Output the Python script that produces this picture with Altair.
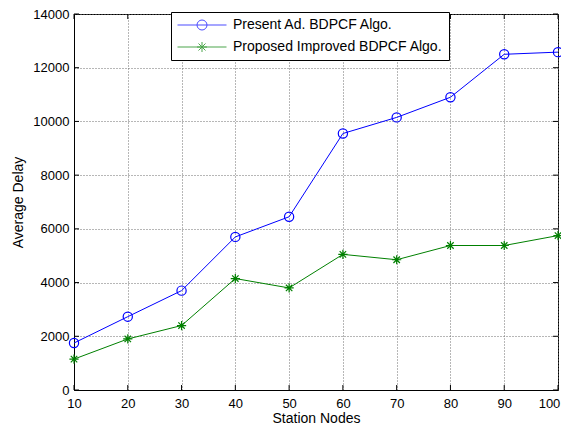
import altair as alt
import pandas as pd

nodes = [10, 20, 30, 40, 50, 60, 70, 80, 90, 100]
present = [1750, 2730, 3700, 5700, 6450, 9550, 10150, 10900, 12500, 12580]
proposed = [1150, 1900, 2400, 4150, 3800, 5050, 4850, 5380, 5380, 5750]
series_names = ["Present Ad. BDPCF Algo.", "Proposed Improved BDPCF Algo."]
colors = ["#0000FF", "#008000"]
x_ticks = [10, 20, 30, 40, 50, 60, 70, 80, 90, 100]
y_ticks = [0, 2000, 4000, 6000, 8000, 10000, 12000, 14000]

W, H = 484, 376
FONT = "Liberation Sans"

df = pd.DataFrame({
    "nodes": nodes * 2,
    "delay": present + proposed,
    "series": [series_names[0]] * len(nodes) + [series_names[1]] * len(nodes),
})

xs = alt.Scale(domain=[10, 100], nice=False, zero=False)
ys = alt.Scale(domain=[0, 14000], nice=False)

x_enc = alt.X("nodes:Q", scale=xs,
              axis=alt.Axis(values=x_ticks, title="Station Nodes", format="d",
                            labelOffset={"condition": {"test": "datum.value == 100", "value": -9},
                                         "value": 0},
                            titleBaseline="alphabetic", titleY=32))
y_enc = alt.Y("delay:Q", scale=ys,
              axis=alt.Axis(values=y_ticks, title="Average Delay", format="d"))

star_path = "M-1,0L1,0M0,-1L0,1M-0.7,-0.7L0.7,0.7M-0.7,0.7L0.7,-0.7"
L = 4.9
leg_circle = f"M-{L},0L{L},0M1,0A1,1 0 1,1 -1,0A1,1 0 1,1 1,0"
leg_star = f"M-{L},0L{L},0" + star_path

base = alt.Chart(df)

layers = []
for name, col, shp in zip(series_names, colors, ["circle", star_path]):
    sub = base.transform_filter(alt.datum.series == name)
    layers.append(sub.mark_line(color=col, strokeWidth=1).encode(x=x_enc, y=y_enc))
    layers.append(sub.mark_point(shape=shp, color=col, filled=False, size=85,
                                 strokeWidth=1.2, opacity=1).encode(x=x_enc, y=y_enc))

legend_layer = base.transform_filter("false").mark_point(filled=False, size=81, strokeWidth=1).encode(
    x=x_enc, y=y_enc,
    color=alt.Color("series:N",
                    scale=alt.Scale(domain=series_names, range=colors),
                    legend=alt.Legend(orient="none", legendX=97, legendY=-2, title=None,
                                      fillColor="white", strokeColor="black",
                                      padding=6, labelFontSize=14, labelFont=FONT,
                                      labelColor="black", labelLimit=0,
                                      symbolOffset=18, labelOffset=24,
                                      rowPadding=8, symbolStrokeWidth=1)),
    shape=alt.Shape("series:N",
                    scale=alt.Scale(domain=series_names, range=[leg_circle, leg_star]),
                    legend=alt.Legend(orient="none", legendX=97, legendY=-2, title=None,
                                      labelLimit=0)),
)

tick_x = pd.DataFrame({"nodes": x_ticks})
tick_y = pd.DataFrame({"delay": y_ticks})
tx = alt.Chart(tick_x)
ty = alt.Chart(tick_y)
ticks = [
    tx.mark_rule(color="black", strokeWidth=1).encode(x=x_enc, y=alt.value(H), y2=alt.value(H - 5)),
    tx.mark_rule(color="black", strokeWidth=1).encode(x=x_enc, y=alt.value(0), y2=alt.value(5)),
    ty.mark_rule(color="black", strokeWidth=1).encode(y=y_enc, x=alt.value(0), x2=alt.value(5)),
    ty.mark_rule(color="black", strokeWidth=1).encode(y=y_enc, x=alt.value(W), x2=alt.value(W - 5)),
]

chart = alt.layer(*ticks, *layers, legend_layer).properties(
    width=W, height=H,
    autosize=alt.AutoSizeParams(type="none"),
    padding={"left": 66, "top": 6, "right": 3, "bottom": 35},
    background="white",
).configure_view(
    stroke="black", strokeWidth=1
).configure_axis(
    labelFont=FONT, titleFont=FONT, labelFontSize=13, titleFontSize=14,
    labelColor="black", titleColor="black", titleFontWeight="normal",
    grid=True, gridColor="#6e6e6e", gridDash=[1, 2], gridWidth=1, gridOpacity=1,
    domain=True, domainColor="black", domainWidth=1,
    ticks=False, labelPadding=5, labelFlush=False, labelOverlap=False,
).configure_axisY(
    titlePadding=7,
).configure_axisX(
    labelPadding=7,
)

chart.save("out.html", embed_options={"renderer": "svg", "actions": False})
